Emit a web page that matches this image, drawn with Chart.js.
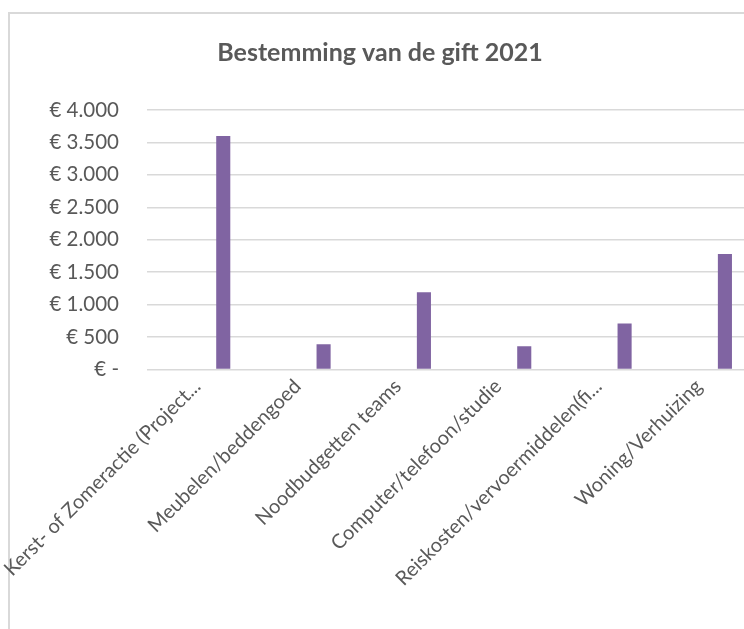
<!DOCTYPE html>
<html>
<head>
<meta charset="utf-8">
<script src="https://cdn.jsdelivr.net/npm/chart.js@4/dist/chart.umd.min.js"></script>
<style>
    html, body { margin: 0; padding: 0; background: #fff; overflow: hidden; }
    #frame {
        position: absolute; left: 8px; top: 12px;
        width: 1000px; height: 1000px;
        border: 2px solid #d9d9d9;
    }
    #wrap { position: absolute; left: 0; top: 0; width: 760px; height: 629px; }
</style>
</head>
<body>
<div id="frame"></div>
<div id="wrap"><canvas id="giftChart"></canvas></div>
<script>
// categorieën en bedragen
const categories = [
    'Kerst- of Zomeractie (Project...',
    'Meubelen/beddengoed',
    'Noodbudgetten teams',
    'Computer/telefoon/studie',
    'Reiskosten/vervoermiddelen(fi...',
    'Woning/Verhuizing'
];
const values = [3600, 390, 1190, 360, 710, 1780];
// lege reeksen uit het bronbestand (schuiven de staaf naar rechts in de groep)
const emptySeries = [null, null, null, null, null, null];

const yMin = 0;
const yMax = 4000;
const yStep = 500;

const textColor = '#595959';
const barColor = '#8064A2';

function euro(v) {
    if (v === 0) return '€ -';
    return '€ ' + String(v).replace(/\B(?=(\d{3})+(?!\d))/g, '.');
}

const ctx = document.getElementById('giftChart').getContext('2d');

new Chart(ctx, {
    type: 'bar',
    data: {
        labels: categories,
        datasets: [
            { label: '', data: emptySeries, backgroundColor: barColor },
            { label: '', data: emptySeries, backgroundColor: barColor },
            {
                label: 'Bedrag',
                data: values,
                backgroundColor: barColor,
                borderWidth: 0
            }
        ]
    },
    options: {
        responsive: true,
        maintainAspectRatio: false,
        animation: false,
        categoryPercentage: 0.78,
        barPercentage: 0.54,
        layout: { padding: { left: 11, right: 11, top: 0, bottom: 0 } },
        plugins: {
            legend: { display: false },
            tooltip: { enabled: false },
            title: {
                display: true,
                text: 'Bestemming van de gift 2021',
                color: textColor,
                font: { family: 'Lato', size: 25, weight: 'bold' },
                padding: { top: 38, bottom: 42 }
            }
        },
        scales: {
            x: {
                grid: { display: false, drawTicks: false },
                border: { display: false },
                ticks: {
                    color: textColor,
                    font: { family: 'Lato', size: 20 },
                    minRotation: 45,
                    maxRotation: 45,
                    autoSkip: false,
                    padding: 5
                },
                afterFit: function (scale) {
                    scale.height = 259.5;
                    scale.paddingLeft = 0;
                    scale.paddingRight = 0;
                }
            },
            y: {
                min: yMin,
                max: yMax,
                grid: { color: '#d9d9d9', lineWidth: 1.5, drawTicks: false },
                border: { display: false },
                ticks: {
                    stepSize: yStep,
                    color: textColor,
                    font: { family: 'Lato', size: 20.5 },
                    padding: 28,
                    callback: function (v) { return euro(v); }
                },
                afterFit: function (scale) { scale.width = 136; }
            }
        }
    }
});
</script>
</body>
</html>
